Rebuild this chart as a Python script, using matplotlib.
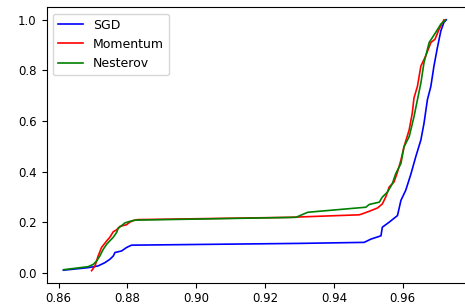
import matplotlib
matplotlib.use("Agg")
import matplotlib.pyplot as plt

# SGD (blue) curve keypoints
sgd_x = [0.8614, 0.8686, 0.8715, 0.8735, 0.8749, 0.8759, 0.8764, 0.8783, 0.8798, 0.8812,
         0.9300, 0.9488, 0.9508, 0.9537, 0.9541, 0.9561, 0.9585, 0.9595, 0.9609, 0.9624,
         0.9638, 0.9653, 0.9662, 0.9672, 0.9682, 0.9691, 0.9701, 0.9711, 0.9720, 0.9727]
sgd_y = [0.010, 0.020, 0.027, 0.040, 0.053, 0.066, 0.080, 0.086, 0.100, 0.109,
         0.116, 0.120, 0.133, 0.146, 0.180, 0.200, 0.226, 0.286, 0.326, 0.390,
         0.458, 0.525, 0.590, 0.684, 0.737, 0.817, 0.890, 0.956, 0.990, 1.000]

# Momentum (red) curve keypoints
mom_x = [0.8696, 0.8706, 0.8715, 0.8725, 0.8740, 0.8749, 0.8759, 0.8769, 0.8778, 0.8798,
         0.8807, 0.8817, 0.8830, 0.9270, 0.9474, 0.9483, 0.9503, 0.9527, 0.9541, 0.9551,
         0.9561, 0.9575, 0.9585, 0.9595, 0.9604, 0.9619, 0.9628, 0.9633, 0.9643, 0.9653,
         0.9667, 0.9682, 0.9694, 0.9706, 0.9720]
mom_y = [0.008, 0.027, 0.066, 0.100, 0.126, 0.140, 0.162, 0.170, 0.183, 0.190,
         0.200, 0.206, 0.210, 0.219, 0.229, 0.233, 0.243, 0.256, 0.272, 0.300,
         0.339, 0.359, 0.398, 0.445, 0.498, 0.565, 0.631, 0.691, 0.737, 0.817,
         0.857, 0.910, 0.923, 0.963, 1.000]

# Nesterov (green) curve keypoints
nes_x = [0.8615, 0.8686, 0.8701, 0.8711, 0.8720, 0.8730, 0.8740, 0.8749, 0.8759, 0.8769,
         0.8773, 0.8783, 0.8793, 0.8807, 0.8822, 0.9290, 0.9324, 0.9493, 0.9503, 0.9532,
         0.9541, 0.9556, 0.9570, 0.9580, 0.9595, 0.9604, 0.9619, 0.9633, 0.9643, 0.9653,
         0.9662, 0.9677, 0.9696, 0.9711, 0.9725]
nes_y = [0.012, 0.024, 0.033, 0.047, 0.066, 0.093, 0.113, 0.126, 0.140, 0.160,
         0.175, 0.186, 0.197, 0.203, 0.208, 0.219, 0.239, 0.259, 0.270, 0.279,
         0.299, 0.319, 0.352, 0.392, 0.432, 0.498, 0.538, 0.617, 0.684, 0.750,
         0.830, 0.910, 0.950, 0.983, 1.000]

labels = ["SGD", "Momentum", "Nesterov"]
colors = ["blue", "red", "green"]

fig = plt.figure(figsize=(4.65, 3.04), dpi=100)
ax = fig.add_axes([0.100, 0.070, 0.9013, 0.906])

for xs, ys, lab, col in zip([sgd_x, mom_x, nes_x], [sgd_y, mom_y, nes_y], labels, colors):
    ax.plot(xs, ys, color=col, lw=1.2, label=lab)

ax.set_xlim(0.8565, 0.9783)
ax.set_ylim(-0.0395, 1.0495)
ax.set_xticks([0.86, 0.88, 0.90, 0.92, 0.94, 0.96])
ax.set_yticks([0.0, 0.2, 0.4, 0.6, 0.8, 1.0])
ax.tick_params(labelsize=8.5, length=3.5, width=0.8)
for s in ax.spines.values():
    s.set_linewidth(0.8)
ax.legend(loc="upper left", fontsize=9)

fig.savefig("out.png", dpi=100)
